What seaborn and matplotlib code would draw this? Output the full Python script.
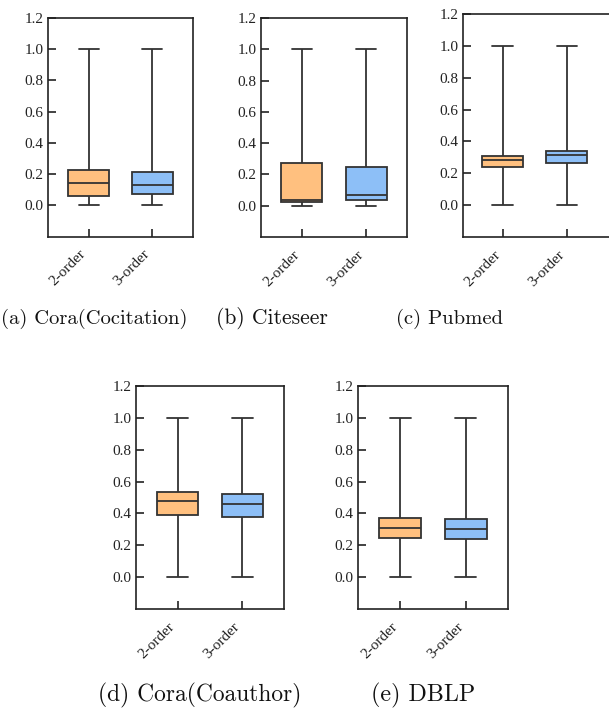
import numpy as np
import pandas as pd
import matplotlib
matplotlib.use("Agg")
import matplotlib.pyplot as plt
import seaborn as sns

# Five-number summaries (min, q1, median, q3, max)
orders = ["2-order", "3-order"]
cora_cocitation_2 = [0.0, 0.062, 0.143, 0.226, 1.0]
cora_cocitation_3 = [0.0, 0.073, 0.130, 0.214, 1.0]
citeseer_2 = [0.0, 0.021, 0.036, 0.274, 1.0]
citeseer_3 = [0.0, 0.038, 0.068, 0.248, 1.0]
pubmed_2 = [0.0, 0.238, 0.282, 0.307, 1.0]
pubmed_3 = [0.0, 0.265, 0.312, 0.339, 1.0]
cora_coauthor_2 = [0.0, 0.392, 0.476, 0.535, 1.0]
cora_coauthor_3 = [0.0, 0.379, 0.461, 0.522, 1.0]
dblp_2 = [0.0, 0.248, 0.309, 0.371, 1.0]
dblp_3 = [0.0, 0.240, 0.305, 0.364, 1.0]
captions = ["(a) Cora(Cocitation)", "(b) Citeseer", "(c) Pubmed",
            "(d) Cora(Coauthor)", "(e) DBLP"]
yticks = [0.0, 0.2, 0.4, 0.6, 0.8, 1.0, 1.2]

panels = [
    (cora_cocitation_2, cora_cocitation_3),
    (citeseer_2, citeseer_3),
    (pubmed_2, pubmed_3),
    (cora_coauthor_2, cora_coauthor_3),
    (dblp_2, dblp_3),
]

sns.set_theme(style="white")
plt.rcParams["font.family"] = ["Liberation Serif", "DejaVu Serif"]

fig = plt.figure(figsize=(6.09, 7.08), dpi=100)

# axes rectangles [left, bottom, width, height] in figure fraction
rects = [
    [48 / 609, 1 - 236.5 / 708, 145 / 609, 218.5 / 708],
    [261 / 609, 1 - 237 / 708, 146 / 609, 219 / 708],
    [463 / 609, 1 - 237 / 708, 150 / 609, 223 / 708],
    [136 / 609, 1 - 609 / 708, 148 / 609, 223 / 708],
    [358 / 609, 1 - 609 / 708, 150 / 609, 223 / 708],
]
xlims = [(-0.64, 1.64), (-0.64, 1.64), (-0.62, 1.72), (-0.64, 1.64), (-0.64, 1.64)]
caption_pos = [(94, 319), (272, 319), (450, 319), (200, 695), (423, 695)]
caption_size = [14.8, 15.5, 14.9, 16.9, 17.3]

palette = {"2-order": "#FFC07F", "3-order": "#8DBFF7"}
edge = "#333333"

for (d2, d3), rect, xl, cap, cpos, cs in zip(panels, rects, xlims, captions,
                                             caption_pos, caption_size):
    ax = fig.add_axes(rect)
    df = pd.DataFrame({
        "order": [orders[0]] * len(d2) + [orders[1]] * len(d3),
        "value": list(d2) + list(d3),
    })
    sns.boxplot(data=df, x="order", y="value", hue="order", order=orders,
                palette=palette, whis=(0, 100), width=0.64, showfliers=False,
                linecolor=edge, linewidth=1.3, legend=False, ax=ax,
                saturation=1)
    ax.set_xlim(*xl)
    ax.set_ylim(-0.2, 1.2)
    ax.set_yticks(yticks)
    ax.set_yticklabels([f"{v:.1f}" for v in yticks])
    ax.set_xlabel("")
    ax.set_ylabel("")
    for sp in ax.spines.values():
        sp.set_visible(True)
        sp.set_color("#222222")
        sp.set_linewidth(1.2)
    ax.tick_params(axis="both", direction="in", length=6, width=1.2,
                   color="#222222", labelsize=11, labelcolor="#222222")
    ax.tick_params(axis="y", pad=3, left=True)
    ax.tick_params(axis="x", pad=8, bottom=True)
    for lab in ax.get_xticklabels():
        lab.set_rotation(45)
        lab.set_ha("right")
    fig.text(cpos[0] / 609, 1 - cpos[1] / 708, cap, ha="center", va="center",
             fontsize=cs, family="cmr10", color="#111111")

fig.savefig("out.png", dpi=100)
